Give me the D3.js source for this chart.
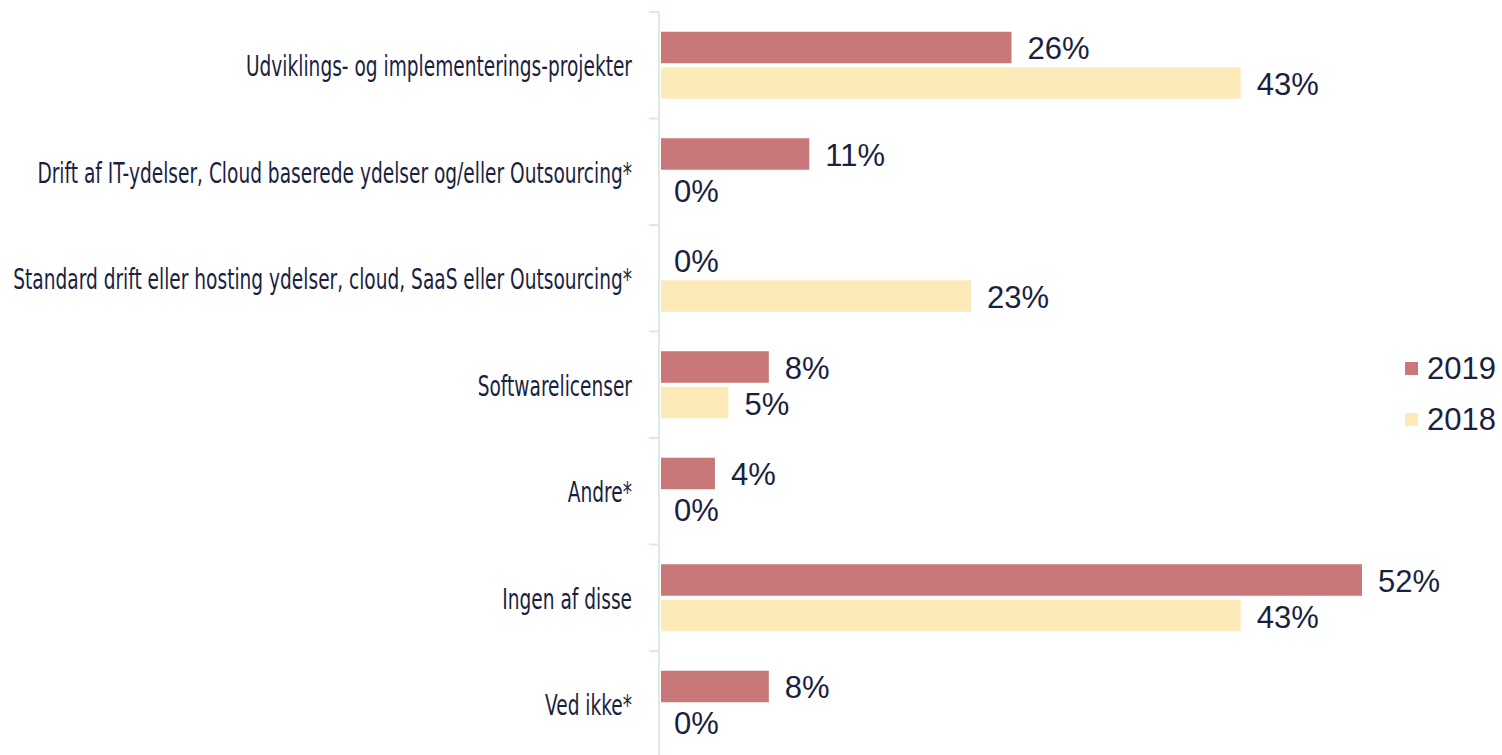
<!DOCTYPE html>
<html>
<head>
<meta charset="utf-8">
<script src="https://cdn.jsdelivr.net/npm/d3@7"></script>
<style>
  body { margin: 0; background: #fff; }
  svg { display: block; }
</style>
</head>
<body>
<div id="chart"></div>
<script>
// data
const categories = [
  'Udviklings- og implementerings-projekter',
  'Drift af IT-ydelser, Cloud baserede ydelser og/eller Outsourcing*',
  'Standard drift eller hosting ydelser, cloud, SaaS eller Outsourcing*',
  'Softwarelicenser',
  'Andre*',
  'Ingen af disse',
  'Ved ikke*'
];
const series = ['2019', '2018'];
const values2019 = [26, 11, 0, 8, 4, 52, 8];
const values2018 = [43, 0, 23, 5, 0, 43, 0];

const colors = { '2019': '#c97879', '2018': '#fcebb8' };
const textColor = '#1b1f3f';

const width = 1502, height = 755;
const svg = d3.select('#chart')
  .append('svg')
  .attr('width', width)
  .attr('height', height);

const x = d3.scaleLinear()
  .domain([0, 52])
  .range([661, 1362]);

const y = d3.scaleBand()
  .domain(categories)
  .range([12, 12 + 7 * 106.5]);

const ySub = d3.scaleBand()
  .domain(series)
  .range([0, y.bandwidth()])
  .paddingInner(0.113)
  .paddingOuter(0.556);

const rows = categories.map((c, i) => ({
  cat: c,
  vals: [
    { s: '2019', v: values2019[i] },
    { s: '2018', v: values2018[i] }
  ]
}));

// axis line + ticks at band boundaries
const axis = svg.append('g');
axis.append('line')
  .attr('x1', 659).attr('x2', 659)
  .attr('y1', y.range()[0]).attr('y2', height)
  .attr('stroke', '#dde9e5')
  .attr('stroke-width', 2);

axis.selectAll('.tick')
  .data(categories)
  .enter().append('line')
  .attr('x1', 649).attr('x2', 659)
  .attr('y1', d => y(d)).attr('y2', d => y(d))
  .attr('stroke', '#dde9e5')
  .attr('stroke-width', 2);

const group = svg.selectAll('.row')
  .data(rows)
  .enter().append('g')
  .attr('transform', d => 'translate(0,' + y(d.cat) + ')');

group.selectAll('rect')
  .data(d => d.vals)
  .enter().append('rect')
  .attr('x', x(0))
  .attr('y', d => ySub(d.s))
  .attr('width', d => x(d.v) - x(0))
  .attr('height', ySub.bandwidth())
  .style('fill', d => colors[d.s]);

group.selectAll('.val')
  .data(d => d.vals)
  .enter().append('text')
  .attr('x', d => d.v > 0 ? x(d.v) + 16 : x(0) + 13)
  .attr('y', d => ySub(d.s) + ySub.bandwidth() / 2 + 12)
  .text(d => d.v + '%')
  .attr('font-family', 'Liberation Sans, Arial, sans-serif')
  .attr('font-size', '31px')
  .style('fill', textColor);

// category labels, condensed face
const labels = svg.append('g')
  .attr('transform', 'translate(632,0)');
const labelText = labels.selectAll('text')
  .data(categories)
  .enter().append('text')
  .attr('x', 0)
  .attr('y', d => y(d) + y.bandwidth() / 2 + 11)
  .attr('text-anchor', 'end')
  .text(d => d)
  .attr('font-family', 'DejaVu Sans Condensed, DejaVu Sans, sans-serif')
  .attr('font-stretch', 'condensed')
  .attr('font-size', '28px')
  .style('fill', textColor);

// squeeze horizontally so the longest label spans like the reference
const widest = d3.max(labelText.nodes(), n => n.getComputedTextLength());
labels.attr('transform', 'translate(632,0) scale(' + (619 / widest) + ',1)');

// legend
const legend = svg.append('g')
  .attr('transform', 'translate(1405,362)');

const item = legend.selectAll('g')
  .data(series)
  .enter().append('g')
  .attr('transform', (d, i) => 'translate(0,' + i * 51 + ')');

item.append('rect')
  .attr('width', 13)
  .attr('height', 13)
  .style('fill', d => colors[d]);

item.append('text')
  .text(d => d)
  .attr('x', 22)
  .attr('y', 17)
  .attr('font-family', 'Liberation Sans, Arial, sans-serif')
  .attr('font-size', '31px')
  .style('fill', textColor);
</script>
</body>
</html>
